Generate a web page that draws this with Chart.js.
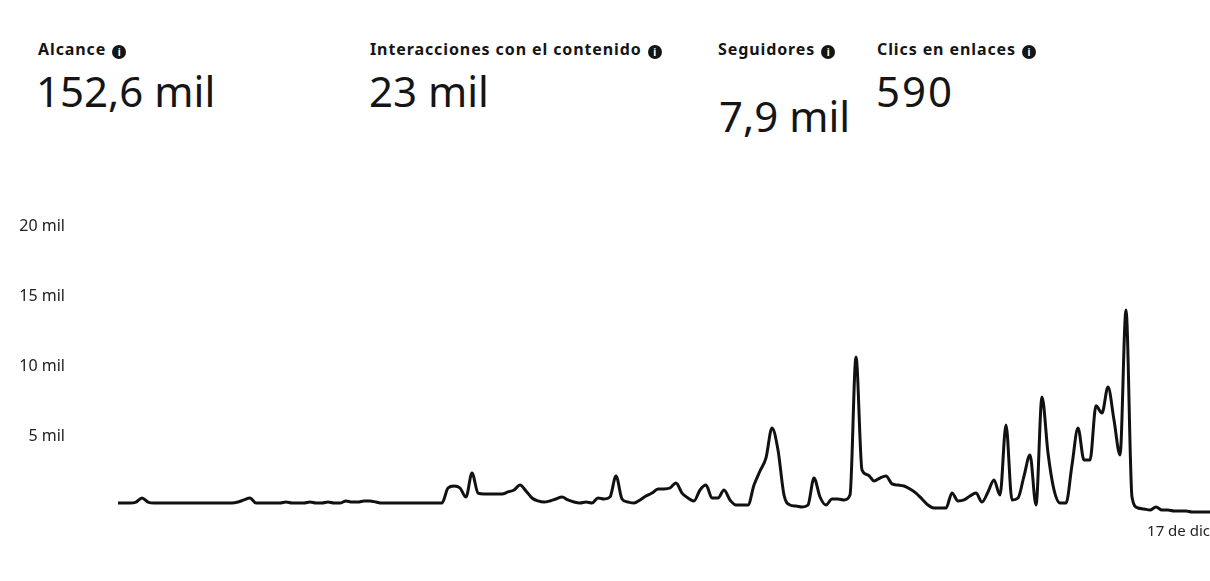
<!DOCTYPE html>
<html lang="es">
<head>
<meta charset="utf-8">
<title>Alcance</title>
<script src="https://cdn.jsdelivr.net/npm/chart.js@4.4.0/dist/chart.umd.min.js"></script>
<style>
  html, body { margin: 0; padding: 0; background: #fff; }
  body { width: 1210px; height: 581px; position: relative; overflow: hidden; font-family: "Noto Sans", sans-serif; color: #151515; }
  .lbl { position: absolute; top: 40px; font-size: 16px; font-weight: 700; line-height: 18px; letter-spacing: 0.9px; white-space: nowrap; }
  .ico { display: inline-block; width: 14px; height: 14px; border-radius: 50%; background: #151515; color: #fff; font-size: 10px; line-height: 14px; text-align: center; vertical-align: -1px; margin-left: 6px; letter-spacing: 0; }
  .val { position: absolute; top: 70px; font-size: 42px; line-height: 42px; white-space: nowrap; }
  #wrap { position: absolute; left: 0; top: 200px; width: 1210px; height: 360px; }
</style>
</head>
<body>
<div class="lbl" style="left:38px">Alcance<span class="ico">i</span></div>
<div class="val" style="left:36px">152,6 mil</div>
<div class="lbl" style="left:370px">Interacciones con el contenido<span class="ico">i</span></div>
<div class="val" style="left:369px">23 mil</div>
<div class="lbl" style="left:718px">Seguidores<span class="ico">i</span></div>
<div class="val" style="left:719px;top:95px">7,9 mil</div>
<div class="lbl" style="left:877px">Clics en enlaces<span class="ico">i</span></div>
<div class="val" style="left:876px;letter-spacing:2px">590</div>

<div id="wrap"><canvas id="reachChart"></canvas></div>

<script>
    // daily reach
    const reach = [
      780, 780, 780, 850, 1140, 850, 780, 780, 780, 780,
      780, 780, 780, 780, 780, 780, 780, 780, 780, 780,
      850, 1000, 1140, 780, 780, 780, 780, 780, 850, 780,
      780, 780, 850, 780, 780, 850, 780, 780, 930, 850,
      850, 930, 930, 850, 780, 780, 780, 780, 780, 780,
      780, 780, 780, 780, 780, 1850, 1990, 1850, 1210, 2920,
      1490, 1420, 1420, 1420, 1420, 1570, 1710, 2060, 1640, 1140,
      930, 850, 930, 1070, 1210, 1000, 850, 780, 850, 780,
      1140, 1070, 1210, 2700, 1070, 850, 780, 1000, 1280, 1490,
      1780, 1780, 1850, 2210, 1490, 1140, 930, 1710, 2060, 1140,
      1140, 1710, 1000, 640, 640, 640, 2060, 3060, 3990, 6120,
      4560, 1350, 640, 570, 500, 640, 2560, 1210, 640, 1070,
      1070, 1000, 1350, 11170, 3130, 2780, 2350, 2560, 2700, 2140,
      2060, 1990, 1780, 1490, 1070, 640, 430, 430, 430, 1490,
      930, 1000, 1280, 1490, 850, 1570, 2420, 1350, 6330, 1000,
      1140, 2700, 4200, 640, 8330, 4340, 1710, 780, 780, 3490,
      6120, 3840, 3840, 7700, 7190, 9040, 6690, 4200, 14520, 1210,
      430, 360, 280, 500, 280, 280, 210, 210, 210, 140,
      140, 140, 140
    ];

    const yTicks = [0, 5000, 10000, 15000, 20000];
    const lastDay = new Date(2023, 11, 17);
    const months = ['ene', 'feb', 'mar', 'abr', 'may', 'jun', 'jul', 'ago', 'sept', 'oct', 'nov', 'dic'];
    const days = reach.map((v, i) => {
      const d = new Date(lastDay);
      d.setDate(d.getDate() - (reach.length - 1 - i));
      return d.getDate() + ' de ' + months[d.getMonth()];
    });

    const reachChart = new Chart(document.getElementById('reachChart'), {
      type: 'line',
      data: {
        labels: days,
        datasets: [{
          label: 'Alcance',
          data: reach,
          borderColor: '#111',
          borderWidth: 3,
          pointRadius: 0,
          tension: 0.2,
          cubicInterpolationMode: 'monotone',
          fill: false
        }]
      },
      options: {
        responsive: true,
        maintainAspectRatio: false,
        animation: false,
        layout: { padding: { top: 33, left: 0, right: 0, bottom: 0 } },
        plugins: { legend: { display: false }, tooltip: { enabled: false } },
        scales: {
          x: {
            grid: { display: false, drawTicks: true, tickLength: 9 },
            border: { display: false },
            afterFit: s => { s.height = 46; },
            ticks: {
              autoSkip: false,
              maxRotation: 0,
              align: 'end',
              padding: 0,
              color: '#222',
              font: { family: 'Noto Sans', size: 15 },
              callback: (v, i) => i === days.length - 1 ? days[i] : ''
            }
          },
          y: {
            min: 0,
            max: 20000,
            grid: { display: false, drawTicks: true, tickLength: 53 },
            border: { display: false },
            afterFit: s => { s.width = 118; },
            afterBuildTicks: s => { s.ticks = yTicks.map(v => ({ value: v })); },
            ticks: {
              padding: 0,
              labelOffset: -7,
              color: '#222',
              font: { family: 'Noto Sans', size: 16 },
              callback: v => v === 0 ? '' : (v / 1000) + ' mil'
            }
          }
        }
      }
    });
</script>
</body>
</html>
